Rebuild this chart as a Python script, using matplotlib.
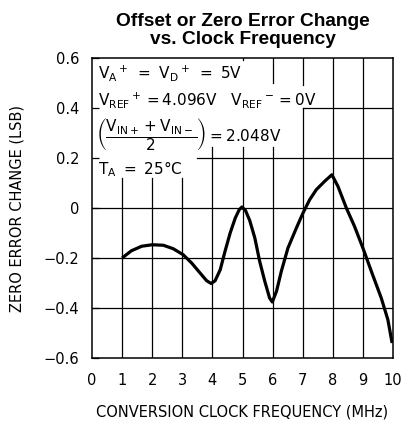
import matplotlib
matplotlib.use("Agg")
import matplotlib.pyplot as plt

# curve (MHz, LSB)
freq_mhz = [1.00, 1.31, 1.65, 2.00, 2.37, 2.70, 3.03, 3.31, 3.59, 3.81, 3.96,
            4.09, 4.26, 4.42, 4.59, 4.76, 4.89, 4.98, 5.10, 5.24, 5.41, 5.57,
            5.74, 5.90, 5.99, 6.13, 6.29, 6.51, 6.79, 7.01, 7.23, 7.45, 7.73,
            7.97, 8.17, 8.45, 8.72, 9.00, 9.28, 9.61, 9.83, 9.97]
zero_err = [-0.200, -0.171, -0.153, -0.147, -0.149, -0.163, -0.187, -0.220,
            -0.260, -0.291, -0.302, -0.291, -0.247, -0.173, -0.100, -0.040,
            -0.007, 0.004, -0.010, -0.050, -0.120, -0.213, -0.293, -0.360,
            -0.376, -0.333, -0.253, -0.160, -0.080, -0.020, 0.033, 0.073,
            0.107, 0.133, 0.087, 0.000, -0.073, -0.160, -0.253, -0.360,
            -0.447, -0.540]

x_ticks = [0, 1, 2, 3, 4, 5, 6, 7, 8, 9, 10]
y_ticks = [-0.6, -0.4, -0.2, 0, 0.2, 0.4, 0.6]
y_tick_labels = ["\u22120.6", "\u22120.4", "\u22120.2", "0", "0.2", "0.4", "0.6"]

title_lines = ["Offset or Zero Error Change", "vs. Clock Frequency"]
x_label = "CONVERSION CLOCK FREQUENCY (MHz)"
y_label = "ZERO ERROR CHANGE (LSB)"

plt.rcParams["font.family"] = ["DejaVu Sans"]
plt.rcParams["mathtext.default"] = "regular"

W, H = 401, 423
fig = plt.figure(figsize=(W / 100, H / 100), dpi=100)
ax = fig.add_axes([92 / W, 1 - 358 / H, 301 / W, 300 / H])
ax.set_xlim(0, 10)
ax.set_ylim(-0.6, 0.6)

# grid: the text block in the upper left cuts some of the lines short
grid_kw = dict(color="black", linewidth=0.9, zorder=1)
for y in [-0.4, -0.2, 0]:
    ax.plot([0, 10], [y, y], **grid_kw)
ax.plot([3.48, 10], [0.2, 0.2], **grid_kw)
ax.plot([7, 10], [0.4, 0.4], **grid_kw)
for x in [1, 2, 3]:
    ax.plot([x, x], [-0.6, 0.12], **grid_kw)
for x in [4, 5, 6]:
    ax.plot([x, x], [-0.6, 0.245], **grid_kw)
ax.plot([5, 5], [0.59, 0.6], **grid_kw)
ax.plot([6, 6], [0.5, 0.6], **grid_kw)
ax.plot([7, 7], [-0.6, 0.4], **grid_kw)
ax.plot([7, 7], [0.493, 0.6], **grid_kw)
for x in [8, 9]:
    ax.plot([x, x], [-0.6, 0.6], **grid_kw)

ax.plot(freq_mhz, zero_err, color="black", linewidth=2.3,
        solid_capstyle="butt", solid_joinstyle="round", zorder=3)

for s in ax.spines.values():
    s.set_linewidth(1.1)

ax.set_xticks(x_ticks)
ax.set_yticks(y_ticks)
ax.set_yticklabels(y_tick_labels)
ax.tick_params(axis="x", length=0, pad=11, labelsize=10.5)
ax.tick_params(axis="y", direction="in", length=5, width=0.9, pad=9, labelsize=10.5)

ax.set_xlabel(x_label, fontsize=10.5, labelpad=12)
ax.set_ylabel(y_label, fontsize=10.5, labelpad=14)

# conditions
tsize = 11
ax.text(0.2, 0.52, r"$V_A{}^+\ =\ V_D{}^+\ =\ 5V$", fontsize=tsize, va="baseline")
ax.text(0.2, 0.41, r"$V_{REF}{}^+ = 4.096V\ \ \ V_{REF}{}^-= 0V$", fontsize=tsize, va="baseline")
ax.text(0.12, 0.295, r"$\left(\dfrac{V_{IN+} + V_{IN-}}{2}\right) = 2.048V$", fontsize=tsize, va="center")
ax.text(0.2, 0.135, r"$T_A\ =\ 25\degree C$", fontsize=tsize, va="baseline")

fig.text(243 / W, 1 - 26 / H, title_lines[0], ha="center", va="baseline",
         fontsize=13.8, fontweight="bold", family="Liberation Sans")
fig.text(243 / W, 1 - 43.5 / H, title_lines[1], ha="center", va="baseline",
         fontsize=13.8, fontweight="bold", family="Liberation Sans")

fig.savefig("out.png", dpi=100)
